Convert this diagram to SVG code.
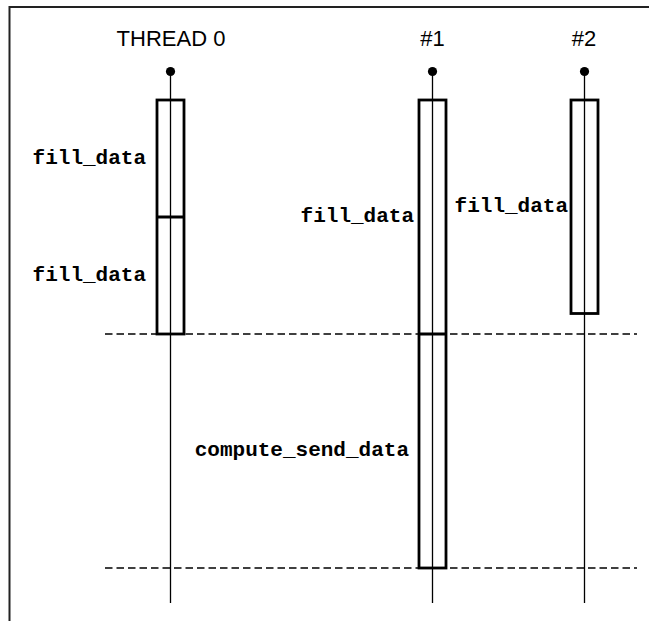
<svg xmlns="http://www.w3.org/2000/svg" width="649" height="621" viewBox="0 0 649 621">
  <style>
    .frame { fill: none; stroke: #222; stroke-width: 2; }
    .life { stroke: #000; stroke-width: 1.3; fill: none; }
    .dot { fill: #000; }
    .box { fill: none; stroke: #000; stroke-width: 2.8; }
    .div { stroke: #000; stroke-width: 3; }
    .sync { stroke: #000; stroke-width: 1.5; stroke-dasharray: 7.5 4; fill: none; }
    .hdr { font-family: "Liberation Sans", Arial, sans-serif; font-size: 22px; fill: #000; text-anchor: middle; }
    .lbl { font-family: "Liberation Mono", "Courier New", monospace; font-weight: bold; font-size: 21px; fill: #000; text-anchor: end; }
  </style>
  <rect width="649" height="621" fill="#fff"/>
  <path class="frame" d="M9.5 621 V7 H649"/>

  <g id="connectors">
    <line class="life" x1="170.5" y1="71.5" x2="170.5" y2="603"/>
    <line class="life" x1="432.5" y1="71.5" x2="432.5" y2="603"/>
    <line class="life" x1="584.5" y1="71.5" x2="584.5" y2="603"/>
    <line class="sync" x1="105" y1="334" x2="637" y2="334"/>
    <line class="sync" x1="105" y1="568" x2="637" y2="568"/>
  </g>

  <g id="thread0">
    <text class="hdr" x="171" y="46">THREAD 0</text>
    <circle class="dot" cx="170.5" cy="71.5" r="4.6"/>
    <rect class="box" x="157" y="100" width="27" height="234"/>
    <line class="div" x1="157" y1="217" x2="184" y2="217"/>
    <text class="lbl" x="146" y="164">fill_data</text>
    <text class="lbl" x="146" y="281">fill_data</text>
  </g>

  <g id="thread1">
    <text class="hdr" x="432.5" y="46">#1</text>
    <circle class="dot" cx="432.5" cy="71.5" r="4.6"/>
    <rect class="box" x="419" y="100" width="27" height="468"/>
    <line class="div" x1="419" y1="334" x2="446" y2="334"/>
    <text class="lbl" x="414" y="222">fill_data</text>
    <text class="lbl" x="409" y="456">compute_send_data</text>
  </g>

  <g id="thread2">
    <text class="hdr" x="584" y="46">#2</text>
    <circle class="dot" cx="584.5" cy="71.5" r="4.6"/>
    <rect class="box" x="571" y="100" width="27" height="213.5"/>
    <text class="lbl" x="568" y="212">fill_data</text>
  </g>
</svg>
